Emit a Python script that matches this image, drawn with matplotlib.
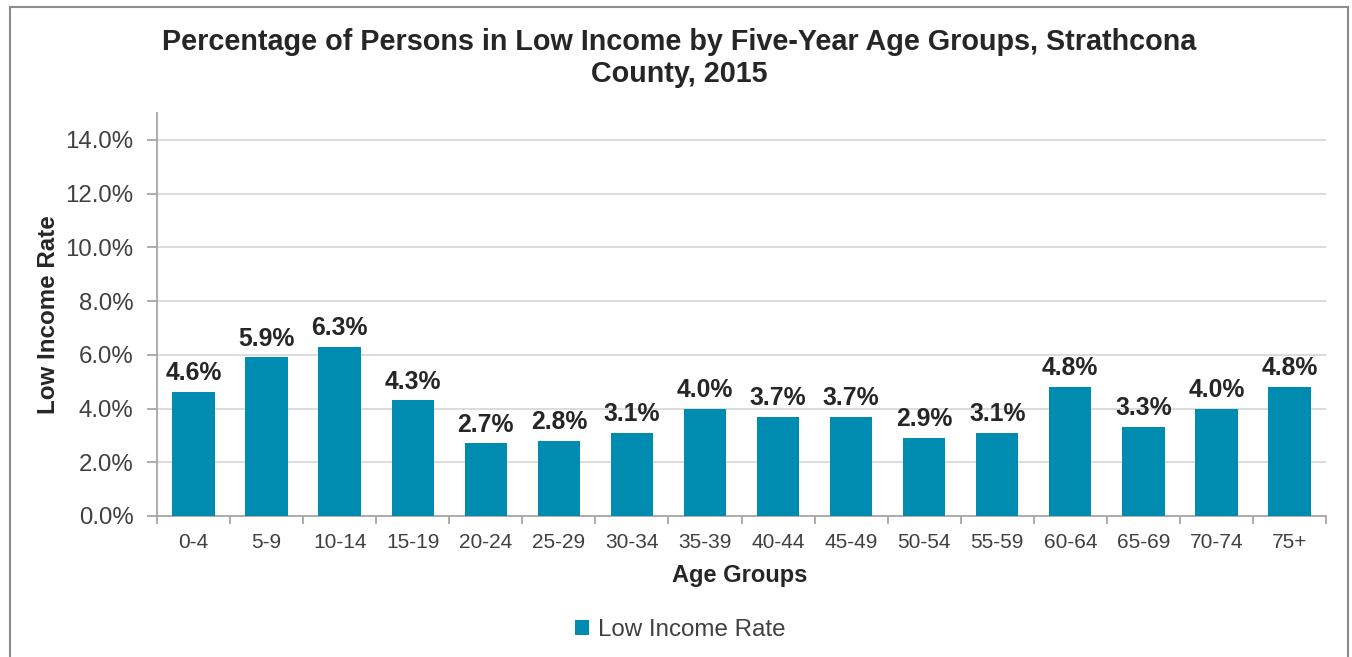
import matplotlib
matplotlib.use("Agg")
import matplotlib.pyplot as plt
from matplotlib.patches import Rectangle
from matplotlib.ticker import FixedLocator, FuncFormatter

plt.rcParams['font.family'] = ['Liberation Sans', 'DejaVu Sans']

categories = ["0-4", "5-9", "10-14", "15-19", "20-24", "25-29", "30-34", "35-39",
              "40-44", "45-49", "50-54", "55-59", "60-64", "65-69", "70-74", "75+"]
values = [4.6, 5.9, 6.3, 4.3, 2.7, 2.8, 3.1, 4.0, 3.7, 3.7, 2.9, 3.1, 4.8, 3.3, 4.0, 4.8]
y_ticks = [0, 2, 4, 6, 8, 10, 12, 14]

title = "Percentage of Persons in Low Income by Five-Year Age Groups, Strathcona\nCounty, 2015"
series_name = "Low Income Rate"

bar_color = "#008bb0"
axis_color = "#a6a6a6"
grid_color = "#d9d9d9"
text_color = "#404040"
bold_color = "#262626"

W, H = 1352, 657
fig = plt.figure(figsize=(W / 100, H / 100), dpi=100)

# outer chart border
fig.patches.append(Rectangle((10 / W, -0.05), (1348 - 10) / W, 1 - 7 / H + 0.05,
                             transform=fig.transFigure, fill=False,
                             edgecolor="#8c8c8c", linewidth=1.5))

ax = fig.add_axes([157 / W, 1 - 516 / H, (1326 - 157) / W, (516 - 113) / H])

x = list(range(len(categories)))
bars = ax.bar(x, values, width=0.58, color=bar_color, label=series_name, zorder=3)

ax.set_xlim(-0.5, len(categories) - 0.5)
ax.set_ylim(0, 15)

ax.yaxis.set_major_locator(FixedLocator(y_ticks))
ax.yaxis.set_major_formatter(FuncFormatter(lambda v, p: f"{v:.1f}%"))
ax.grid(axis="y", color=grid_color, linewidth=1.3, zorder=0)

ax.set_xticks(x)
ax.set_xticklabels(categories, fontsize=15, color=text_color)
ax.tick_params(axis="x", length=0, pad=12)
# category boundary ticks
ax.set_xticks([i - 0.5 for i in range(len(categories) + 1)], minor=True)
ax.tick_params(axis="x", which="minor", length=6, width=1.3, color=axis_color)
ax.tick_params(axis="y", length=7, width=1.3, color=axis_color, labelsize=17.3,
               labelcolor=text_color, pad=10)

for s in ["top", "right"]:
    ax.spines[s].set_visible(False)
for s in ["left", "bottom"]:
    ax.spines[s].set_color(axis_color)
    ax.spines[s].set_linewidth(1.3)

for xi, v in zip(x, values):
    ax.annotate(f"{v:.1f}%", (xi, v), xytext=(0, 5), textcoords="offset points",
                ha="center", va="bottom", fontsize=17.8, fontweight="bold",
                color=bold_color)

ax.set_xlabel("Age Groups", fontsize=17, fontweight="bold", color=bold_color)
ax.xaxis.set_label_coords((740 - 157) / (1326 - 157), -(564 - 516) / (516 - 113))
ax.set_ylabel("Low Income Rate", fontsize=17.4, fontweight="bold", color=bold_color)
ax.yaxis.set_label_coords((60 - 157) / (1326 - 157), (516 - 315) / (516 - 113))

fig.text(679 / W, 1 - 58 / H, title, ha="center", va="center", fontsize=20.7,
         fontweight="bold", color=bold_color, linespacing=1.15)

leg = fig.legend(handles=[bars], labels=[series_name], loc="center",
                 bbox_to_anchor=(680 / W, 1 - 630 / H), frameon=False,
                 fontsize=17.4, handlelength=0.6, handleheight=0.6,
                 handletextpad=0.35)
for t in leg.get_texts():
    t.set_color(text_color)

fig.savefig("out.png", dpi=100)
